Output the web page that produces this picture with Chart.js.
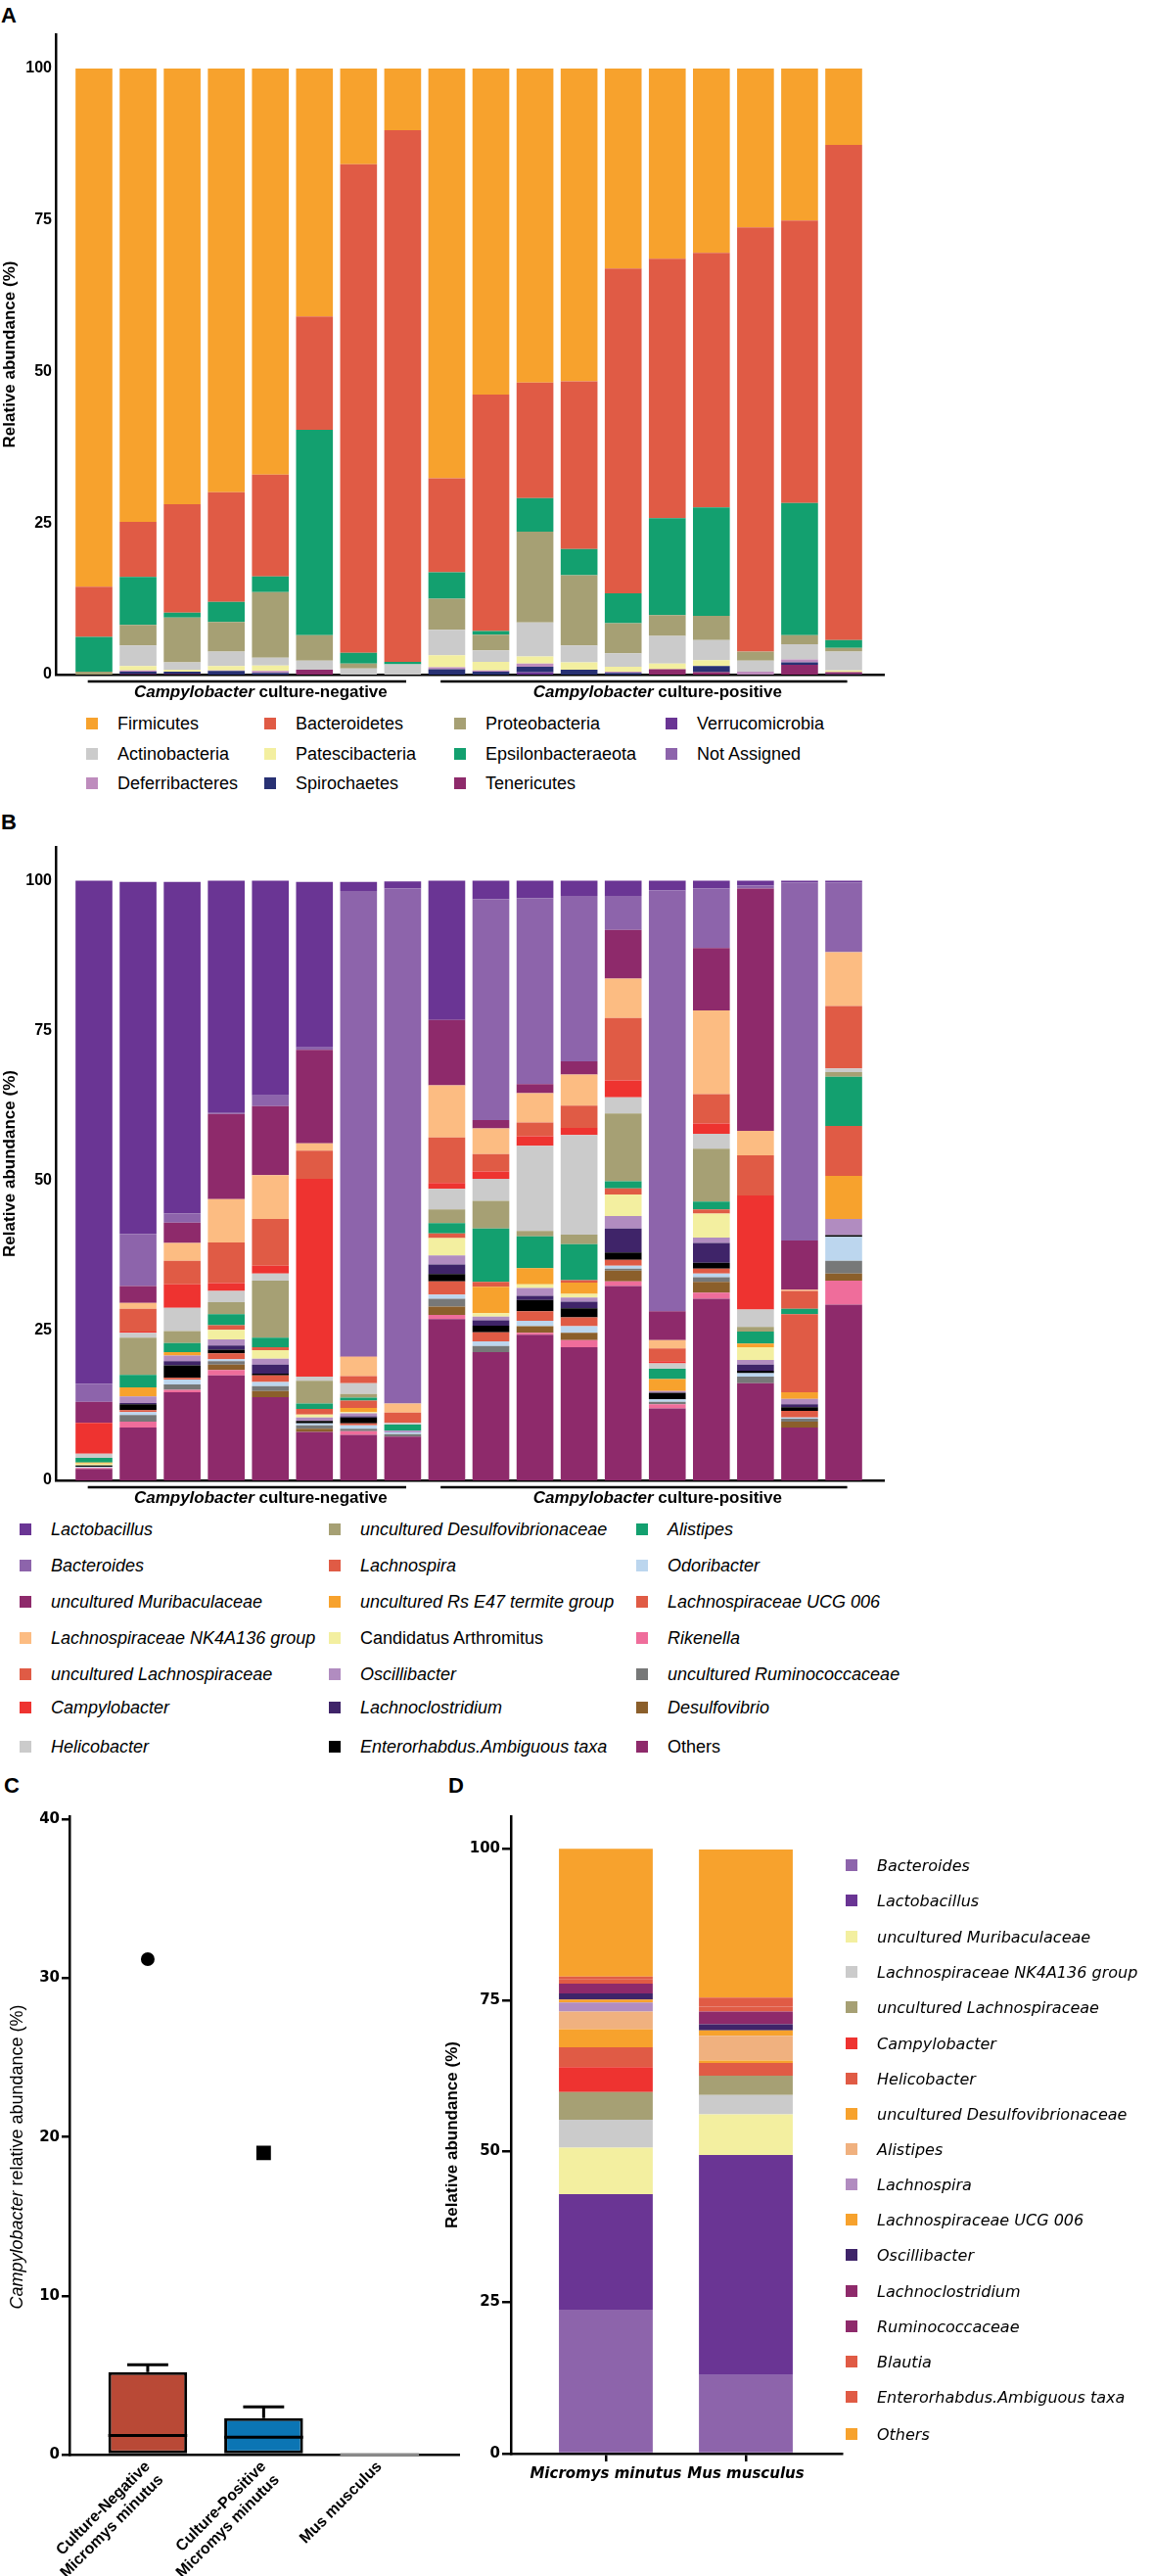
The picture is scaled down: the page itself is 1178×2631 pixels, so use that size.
<!DOCTYPE html>
<html>
<head>
<meta charset="utf-8">
<script src="https://cdn.jsdelivr.net/npm/chart.js@4.4.0/dist/chart.umd.min.js"></script>
<style>
body { margin:0; background:#fff; width:1178px; height:2631px; position:relative; overflow:hidden;
       font-family:"Liberation Sans", Arial, sans-serif; color:#000; }
canvas { position:absolute; }
.panel { position:absolute; font-weight:bold; font-size:22px; line-height:22px; }
.leg { position:absolute; display:flex; align-items:center; height:22px; white-space:nowrap; }
.sw { width:12px; height:12px; flex:none; }
</style>
</head>
<body>
<div class="panel" style="left:1px;top:5px">A</div>
<div class="panel" style="left:1px;top:829px">B</div>
<div class="panel" style="left:4px;top:1813px">C</div>
<div class="panel" style="left:458px;top:1813px">D</div>

<canvas id="chartA" width="920" height="720" style="left:0;top:0"></canvas>
<canvas id="chartB" width="920" height="720" style="left:0;top:830px"></canvas>
<canvas id="chartC" width="480" height="831" style="left:0;top:1800px"></canvas>
<canvas id="chartD" width="738" height="831" style="left:440px;top:1800px"></canvas>

<script>
Chart.defaults.font.family = '"Liberation Sans", Arial, sans-serif';
Chart.defaults.color = '#000';

// samples (8 culture-negative, 10 culture-positive)
var samples = ['N1', 'N2', 'N3', 'N4', 'N5', 'N6', 'N7', 'N8',
               'P1', 'P2', 'P3', 'P4', 'P5', 'P6', 'P7', 'P8', 'P9', 'P10'];
var sampleGroups = ['culture-negative', 'culture-positive'];
var groupFirst = [1, 9];
var groupLast = [8, 18];
var yTicks = [0, 25, 50, 75, 100];

// ---- panel A: phyla (%) ----
var notAssigned   = [0, 0, 0, 0, 0, 0, 0, 0, 0, 0, 0, 0, 0, 0, 0, 0, 0, 0.1];
var verrucomicrobia = [0, 0, 0, 0, 0, 0, 0, 0, 0, 0, 0.4, 0, 0, 0, 0, 0, 0, 0];
var tenericutes   = [0, 0.1, 0.1, 0, 0, 0.8, 0, 0, 0, 0, 0, 0, 0, 0.9, 0.4, 0, 1.6, 0.3];
var spirochaetes  = [0, 0.4, 0.4, 0.6, 0.3, 0, 0, 0, 0.9, 0.5, 0.9, 0.8, 0.3, 0, 1.0, 0, 0.4, 0];
var deferribacteres = [0, 0.2, 0, 0.1, 0.3, 0, 0, 0, 0.3, 0.2, 0.5, 0, 0.2, 0, 0, 0.5, 0.5, 0];
var patescibacteria = [0, 0.7, 0.3, 0.7, 0.9, 0, 0, 0, 2.0, 1.4, 1.2, 1.2, 0.8, 0.9, 1.0, 0, 0, 0.3];
var actinobacteria = [0, 3.4, 1.2, 2.4, 1.3, 1.5, 1.0, 1.7, 4.2, 1.9, 5.6, 2.8, 2.2, 4.6, 3.3, 1.8, 2.5, 3.1];
var proteobacteria = [0.5, 3.4, 7.4, 4.9, 10.8, 4.2, 0.8, 0, 5.1, 2.6, 15.0, 11.6, 5.0, 3.4, 4.0, 1.5, 1.5, 0.6];
var epsilonbacteraeota = [5.7, 7.9, 0.8, 3.3, 2.6, 33.9, 1.8, 0.4, 4.4, 0.6, 5.5, 4.3, 4.9, 16.0, 17.9, 0, 21.8, 1.3];
var bacteroidetes = [8.3, 9.1, 17.9, 18.1, 16.8, 18.7, 80.6, 87.7, 15.5, 39.0, 19.1, 27.7, 53.6, 42.8, 42.0, 70.0, 46.6, 81.7];
var firmicutes    = [85.5, 74.8, 71.9, 69.9, 67.0, 40.9, 15.8, 10.2, 67.6, 53.8, 51.8, 51.6, 33.0, 31.4, 30.4, 26.2, 25.1, 12.6];

// stack order, bottom to top
var phyla = ['Not Assigned', 'Verrucomicrobia', 'Tenericutes', 'Spirochaetes', 'Deferribacteres',
             'Patescibacteria', 'Actinobacteria', 'Proteobacteria', 'Epsilonbacteraeota',
             'Bacteroidetes', 'Firmicutes'];
var phylaValues = [notAssigned, verrucomicrobia, tenericutes, spirochaetes, deferribacteres,
                   patescibacteria, actinobacteria, proteobacteria, epsilonbacteraeota,
                   bacteroidetes, firmicutes];
var phylaColors = ['#8D64AB', '#6A3594', '#8E2A6B', '#283173', '#BE8CBD',
                   '#F3EFA0', '#CBCBCB', '#A6A074', '#13A06F', '#E05B45', '#F7A22D'];
var phylaLegend = ['Firmicutes', 'Bacteroidetes', 'Proteobacteria', 'Verrucomicrobia',
                   'Actinobacteria', 'Patescibacteria', 'Epsilonbacteraeota', 'Not Assigned',
                   'Deferribacteres', 'Spirochaetes', 'Tenericutes'];

// ---- panel B: genera (%) ----
var gOthers        = [1.9, 8.8, 14.7, 17.5, 13.9, 8.1, 7.6, 7.3, 26.9, 21.4, 24.3, 22.2, 32.4, 12.0, 30.3, 16.2, 8.8, 29.3];
var gRikenella     = [0.2, 1.0, 0.4, 0.9, 0, 0, 0.6, 0, 0.7, 0, 0.3, 1.2, 0.8, 0.7, 1.0, 0, 0, 4.0];
var gDesulfovibrio = [0, 0, 0, 0.9, 1.0, 0.5, 0, 0, 1.4, 0, 1.1, 1.2, 1.8, 0, 1.8, 0, 1.0, 1.2];
var gRuminococcaceae = [0, 1.1, 0.9, 0.6, 0.8, 0.6, 0.4, 0.4, 1.3, 1.0, 0, 0, 0.3, 0.4, 0.8, 1.1, 0.5, 2.1];
var gOdoribacter   = [0.2, 0.5, 0.8, 0.3, 0.7, 0.3, 0.6, 0.3, 0.7, 0.8, 0.9, 1.1, 0.5, 0.4, 0.6, 0.6, 0.2, 4.0];
var gUCG006        = [0, 0.3, 0.3, 1.0, 1.1, 0, 0.3, 0, 2.2, 1.5, 1.6, 1.5, 1.0, 0, 0.8, 0, 1.1, 0];
var gEnterorhabdus = [0.2, 1.0, 2.1, 0.6, 0.3, 0.4, 1.0, 0, 1.2, 1.1, 1.9, 1.5, 1.2, 1.1, 1.0, 0.4, 0.6, 0.3];
var gLachnoclostridium = [0, 0.2, 0.7, 0.7, 1.5, 0, 0.2, 0, 1.6, 0.9, 0.7, 1.1, 4.0, 0, 3.3, 1.0, 0.5, 0];
var gOscillibacter = [0, 1.1, 0.9, 1.0, 1.0, 0.6, 0.5, 0.3, 1.5, 0.6, 1.3, 0.7, 2.1, 0.3, 0.9, 0.8, 0.9, 2.7];
var gArthromitus   = [0.3, 0, 0, 1.6, 1.4, 0.5, 0.2, 0, 2.9, 0.6, 0.6, 0.6, 3.6, 0, 4.0, 2.1, 0, 0];
var gRsE47         = [0.2, 1.5, 0.6, 0, 0, 0, 0.7, 0, 0, 4.4, 2.7, 1.9, 0, 2.0, 0, 0.6, 1.1, 7.2];
var gLachnospira   = [0, 0, 0, 0.8, 0.5, 0.9, 1.2, 0, 0.8, 0.8, 0, 0.4, 1.0, 0, 0.7, 0, 13.0, 8.3];
var gAlistipes     = [0.75, 2.1, 1.5, 1.8, 1.6, 0.9, 0.5, 1.0, 1.7, 8.9, 5.3, 6.0, 1.2, 1.7, 1.3, 2.0, 0.9, 8.2];
var gDesulfovibrionaceae = [0, 6.2, 2.0, 2.0, 9.5, 3.8, 0.6, 0, 2.3, 4.6, 0.9, 1.6, 11.3, 0, 8.8, 0.8, 0, 0.8];
var gHelicobacter  = [0.7, 0.8, 3.9, 1.9, 1.2, 0.7, 1.8, 0.3, 3.4, 3.7, 14.2, 16.6, 2.7, 0.9, 2.5, 2.9, 0, 0.6];
var gCampylobacter = [5.15, 0.2, 3.9, 1.3, 1.3, 33.0, 0, 0, 1.0, 1.2, 1.6, 1.2, 2.8, 0.4, 1.7, 19.0, 0, 0];
var gUncLachno     = [0, 3.8, 3.9, 6.8, 7.8, 4.7, 1.2, 1.7, 7.6, 2.9, 2.3, 3.7, 10.4, 2.1, 4.9, 6.7, 3.0, 10.4];
var gNK4A136       = [0, 1.0, 3.0, 7.2, 7.3, 1.2, 3.2, 1.5, 8.7, 4.3, 4.9, 5.2, 6.6, 1.4, 14.0, 4.1, 0.2, 9.0];
var gMuribaculaceae = [3.5, 2.8, 3.4, 14.2, 11.5, 15.6, 0.1, 0, 10.9, 1.4, 1.5, 2.2, 8.1, 4.8, 10.4, 40.4, 8.2, 0];
var gBacteroides   = [3.0, 8.7, 1.5, 0.3, 1.8, 0.4, 77.6, 85.9, 0, 36.8, 31.0, 27.6, 5.7, 70.2, 9.9, 0.5, 59.7, 11.6];
var gLactobacillus = [83.9, 58.7, 55.3, 38.6, 35.8, 27.6, 1.5, 1.2, 23.2, 3.1, 2.9, 2.5, 2.5, 1.6, 1.3, 0.8, 0.3, 0.3];

var genera = ['Others', 'Rikenella', 'Desulfovibrio', 'uncultured Ruminococcaceae', 'Odoribacter',
              'Lachnospiraceae UCG 006', 'Enterorhabdus.Ambiguous taxa', 'Lachnoclostridium',
              'Oscillibacter', 'Candidatus Arthromitus', 'uncultured Rs E47 termite group',
              'Lachnospira', 'Alistipes', 'uncultured Desulfovibrionaceae', 'Helicobacter',
              'Campylobacter', 'uncultured Lachnospiraceae', 'Lachnospiraceae NK4A136 group',
              'uncultured Muribaculaceae', 'Bacteroides', 'Lactobacillus'];
var generaValues = [gOthers, gRikenella, gDesulfovibrio, gRuminococcaceae, gOdoribacter,
                    gUCG006, gEnterorhabdus, gLachnoclostridium, gOscillibacter, gArthromitus,
                    gRsE47, gLachnospira, gAlistipes, gDesulfovibrionaceae, gHelicobacter,
                    gCampylobacter, gUncLachno, gNK4A136, gMuribaculaceae, gBacteroides, gLactobacillus];
var generaColors = ['#8E2A6B', '#EF6D9B', '#8B5F2B', '#777878', '#BCD6EE',
                    '#E05B45', '#000000', '#3F2469', '#B18CC0', '#F3EFA0',
                    '#F7A22D', '#E05B45', '#13A06F', '#A6A074', '#CBCBCB',
                    '#EE3330', '#E05B45', '#FCBC82', '#8E2A6B', '#8D64AB', '#6A3594'];
// legend read down the columns
var generaLegend = ['Lactobacillus', 'Bacteroides', 'uncultured Muribaculaceae',
                    'Lachnospiraceae NK4A136 group', 'uncultured Lachnospiraceae', 'Campylobacter',
                    'Helicobacter', 'uncultured Desulfovibrionaceae', 'Lachnospira',
                    'uncultured Rs E47 termite group', 'Candidatus Arthromitus', 'Oscillibacter',
                    'Lachnoclostridium', 'Enterorhabdus.Ambiguous taxa', 'Alistipes', 'Odoribacter',
                    'Lachnospiraceae UCG 006', 'Rikenella', 'uncultured Ruminococcaceae',
                    'Desulfovibrio', 'Others'];
var notItalic = ['Candidatus Arthromitus', 'Others'];

// ---- panel C: Campylobacter relative abundance (%) ----
var hostGroups = [['Culture-Negative', 'Micromys minutus'], ['Culture-Positive', 'Micromys minutus'], ['Mus musculus']];
var boxTop = [5.2, 2.3, 0];
var boxMedian = [1.2, 1.1, 0];
var whiskerTop = [5.65, 3.0, 0];
var outliers = [31.2, 19.0];
var boxColors = ['#B94936', '#0B75B4', '#8A8A8A'];
var boxLines = ['#000000', '#000000', '#8A8A8A'];

// ---- panel D: mean genera per host (%) ----
var hosts = ['Micromys minutus', 'Mus musculus'];
var hostGenera = ['Bacteroides', 'Lactobacillus', 'uncultured Muribaculaceae', 'Lachnospiraceae NK4A136 group',
                  'uncultured Lachnospiraceae', 'Campylobacter', 'Helicobacter', 'uncultured Desulfovibrionaceae',
                  'Alistipes', 'Lachnospira', 'Lachnospiraceae UCG 006', 'Oscillibacter', 'Lachnoclostridium',
                  'Ruminococcaceae', 'Blautia', 'Enterorhabdus.Ambiguous taxa', 'Others'];
var hostValues = [[23.8, 13.0], [19.1, 36.4], [7.7, 6.7], [4.6, 3.2], [4.6, 3.2], [4.1, 0],
                  [3.3, 2.1], [3.0, 0.4], [2.9, 4.1], [1.5, 0], [0.5, 0.9], [1.0, 1.0], [0.8, 1.2],
                  [0.8, 0.9], [0.8, 0.8], [0.4, 1.5], [21.1, 24.5]];
var hostColors = ['#8D64AB', '#6A3594', '#F3EFA0', '#CBCBCB', '#A6A074', '#EE3330', '#E05B45',
                  '#F7A22D', '#F0B17F', '#B18CC0', '#F7A22D', '#3F2469', '#8E2A6B', '#8E2A6B',
                  '#E05B45', '#E05B45', '#F7A22D'];

// keep the x scale from padding itself for its labels
function noPad(s) { s.paddingLeft = 0; s.paddingRight = 0; }

// group bars + labels under panels A and B
var groupPlugin = {
    id: 'groupBars',
    afterDraw: function(chart) {
        var ctx = chart.ctx, x = chart.scales.x, area = chart.chartArea;
        ctx.save();
        sampleGroups.forEach(function(g, k) {
            var x0 = x.getPixelForValue(groupFirst[k] - 0.14);
            var x1 = x.getPixelForValue(groupLast[k] + 0.08);
            var ly = area.bottom + 7;
            ctx.strokeStyle = '#000';
            ctx.lineWidth = 2.5;
            ctx.beginPath(); ctx.moveTo(x0, ly); ctx.lineTo(x1, ly); ctx.stroke();
            var f1 = 'italic bold 17px "Liberation Sans"', f2 = 'bold 17px "Liberation Sans"';
            ctx.font = f1; var w1 = ctx.measureText('Campylobacter').width;
            ctx.font = f2; var w2 = ctx.measureText(' ' + g).width;
            var tx = (x0 + x1) / 2 + 14 - (w1 + w2) / 2, ty = area.bottom + 18;
            ctx.fillStyle = '#000'; ctx.textBaseline = 'middle'; ctx.textAlign = 'left';
            ctx.font = f1; ctx.fillText('Campylobacter', tx, ty);
            ctx.font = f2; ctx.fillText(' ' + g, tx + w1, ty);
        });
        ctx.restore();
    }
};

function drawSampleChart(id, names, values, colors, xHeight) {
    new Chart(document.getElementById(id), {
        type: 'bar',
        data: {
            datasets: names.map(function(n, k) {
                return {
                    label: n,
                    data: values[k].map(function(v, i) { return {x: i + 1, y: v}; })
                                   .filter(function(d) { return d.y > 0; }),
                    backgroundColor: colors[k],
                    borderWidth: 0,
                    barPercentage: 0.835,
                    categoryPercentage: 1
                };
            })
        },
        options: {
            responsive: false,
            animation: false,
            layout: { padding: { top: 35, right: 17, left: 0, bottom: 0 } },
            plugins: { legend: { display: false }, tooltip: { enabled: false } },
            scales: {
                x: {
                    type: 'linear', offset: false, stacked: true, min: 0.1345, max: 18.91,
                    afterBuildTicks: function(s) { s.ticks = samples.map(function(_, i) { return {value: i + 1}; }); },
                    afterFit: function(s) { s.height = xHeight; noPad(s); },
                    ticks: { display: false },
                    grid: { display: false, drawTicks: false, offset: false },
                    border: { display: true, color: '#000', width: 2.5 }
                },
                y: {
                    stacked: true, min: 0, max: 105.65,
                    afterBuildTicks: function(s) { s.ticks = yTicks.map(function(v) { return {value: v}; }); },
                    afterFit: function(s) { s.width = 57; },
                    ticks: { padding: 4, font: { size: 16, weight: 'bold' }, color: '#000' },
                    grid: { display: false, drawTicks: false },
                    border: { display: true, color: '#000', width: 2.5 },
                    title: { display: true, text: 'Relative abundance (%)', color: '#000',
                             font: { size: 17, weight: 'bold' }, padding: { top: 0, bottom: 0 } }
                }
            }
        },
        plugins: [groupPlugin]
    });
}

drawSampleChart('chartA', phyla, phylaValues, phylaColors, 31);
drawSampleChart('chartB', genera, generaValues, generaColors, 38);

// ---- panel C ----
var boxPlugin = {
    id: 'boxParts',
    afterDatasetsDraw: function(chart) {
        var ctx = chart.ctx, y = chart.scales.y, meta = chart.getDatasetMeta(0);
        ctx.save();
        ctx.lineWidth = 3;
        meta.data.forEach(function(bar, i) {
            var hw = bar.width / 2;
            ctx.strokeStyle = boxLines[i];
            ctx.beginPath();
            ctx.moveTo(bar.x - hw, y.getPixelForValue(boxMedian[i]));
            ctx.lineTo(bar.x + hw, y.getPixelForValue(boxMedian[i]));
            if (whiskerTop[i] > boxTop[i]) {
                var yt = y.getPixelForValue(whiskerTop[i]);
                ctx.moveTo(bar.x, y.getPixelForValue(boxTop[i]));
                ctx.lineTo(bar.x, yt);
                ctx.moveTo(bar.x - hw * 0.52, yt);
                ctx.lineTo(bar.x + hw * 0.52, yt);
            }
            ctx.stroke();
        });
        // y title with italic genus name
        var area = chart.chartArea, f1 = 'italic 18px "Liberation Sans"', f2 = '18px "Liberation Sans"';
        ctx.font = f1; var w1 = ctx.measureText('Campylobacter').width;
        ctx.font = f2; var w2 = ctx.measureText(' relative abundance (%)').width;
        ctx.translate(18, (area.top + area.bottom) / 2 + 22);
        ctx.rotate(-Math.PI / 2);
        ctx.fillStyle = '#000'; ctx.textBaseline = 'middle'; ctx.textAlign = 'left';
        ctx.font = f1; ctx.fillText('Campylobacter', -(w1 + w2) / 2, 0);
        ctx.font = f2; ctx.fillText(' relative abundance (%)', -(w1 + w2) / 2 + w1, 0);
        ctx.restore();
    }
};

new Chart(document.getElementById('chartC'), {
    type: 'bar',
    data: {
        datasets: [{
            label: 'box',
            data: boxTop.map(function(v, i) { return {x: i + 1, y: v}; }),
            backgroundColor: boxColors,
            borderColor: boxLines,
            borderWidth: 3,
            borderSkipped: false,
            barPercentage: 0.68,
            categoryPercentage: 1
        }, {
            type: 'scatter',
            label: 'outliers',
            data: outliers.map(function(v, i) { return {x: i + 1, y: v}; }),
            pointStyle: ['circle', 'rect'],
            pointRadius: [7, 10.5],
            backgroundColor: '#000',
            borderWidth: 0
        }]
    },
    options: {
        responsive: false,
        animation: false,
        layout: { padding: { top: 55, right: 5, left: 0, bottom: 0 } },
        plugins: { legend: { display: false }, tooltip: { enabled: false } },
        scales: {
            x: {
                type: 'linear', offset: false, min: 0.325, max: 3.69,
                afterBuildTicks: function(s) { s.ticks = hostGroups.map(function(_, i) { return {value: i + 1}; }); },
                afterFit: function(s) { s.height = 124; noPad(s); },
                ticks: {
                    minRotation: 45, maxRotation: 45, padding: 3, color: '#000', autoSkip: false,
                    font: { size: 16, weight: 'bold' },
                    callback: function(v) { return hostGroups[v - 1]; }
                },
                grid: { display: false, drawTicks: false, offset: false },
                border: { display: true, color: '#000', width: 2.5 }
            },
            y: {
                min: 0, max: 40.2,
                afterBuildTicks: function(s) { s.ticks = [0, 10, 20, 30, 40].map(function(v) { return {value: v}; }); },
                afterFit: function(s) { s.width = 71; },
                ticks: { padding: 2, color: '#000', font: { family: '"DejaVu Sans"', size: 15, weight: 'bold' } },
                grid: { display: true, drawOnChartArea: false, drawTicks: true, tickLength: 8, color: '#000', lineWidth: 2.5 },
                border: { display: true, color: '#000', width: 2.5 }
            }
        }
    },
    plugins: [boxPlugin]
});

// ---- panel D ----
new Chart(document.getElementById('chartD'), {
    type: 'bar',
    data: {
        datasets: hostGenera.map(function(n, k) {
            return {
                label: n,
                data: hostValues[k].map(function(v, i) { return {x: i + 1, y: v}; })
                                   .filter(function(d) { return d.y > 0; }),
                backgroundColor: hostColors[k],
                borderWidth: 0,
                barPercentage: 0.67,
                categoryPercentage: 1
            };
        })
    },
    options: {
        responsive: false,
        animation: false,
        layout: { padding: { top: 55, right: 318, left: 0, bottom: 0 } },
        plugins: { legend: { display: false }, tooltip: { enabled: false } },
        scales: {
            x: {
                type: 'linear', offset: false, stacked: true, min: 0.322, max: 2.685,
                afterBuildTicks: function(s) { s.ticks = hosts.map(function(_, i) { return {value: i + 1}; }); },
                afterFit: function(s) { s.height = 125; noPad(s); },
                ticks: {
                    maxRotation: 0, padding: 4, color: '#000', autoSkip: false,
                    font: { family: '"DejaVu Sans"', size: 15, weight: 'bold', style: 'italic' },
                    callback: function(v) { return hosts[v - 1]; }
                },
                grid: { display: true, drawOnChartArea: false, drawTicks: true, tickLength: 8,
                        color: '#000', lineWidth: 2.5, offset: false },
                border: { display: true, color: '#000', width: 2.5 }
            },
            y: {
                stacked: true, min: 0, max: 105.4,
                afterBuildTicks: function(s) { s.ticks = yTicks.map(function(v) { return {value: v}; }); },
                afterFit: function(s) { s.width = 82; },
                ticks: { padding: 2, color: '#000', font: { family: '"DejaVu Sans"', size: 15, weight: 'bold' } },
                grid: { display: true, drawOnChartArea: false, drawTicks: true, tickLength: 9, color: '#000', lineWidth: 2.5 },
                border: { display: true, color: '#000', width: 2.5 },
                title: { display: true, text: 'Relative abundance (%)', color: '#000',
                         font: { size: 17, weight: 'bold' }, padding: { top: 12, bottom: 0 } }
            }
        }
    }
});

// ---- HTML legends ----
function addLegend(items, colorOf, xs, ys, byColumn, styleOf) {
    items.forEach(function(name, i) {
        var c = byColumn ? Math.floor(i / ys.length) : i % xs.length;
        var r = byColumn ? i % ys.length : Math.floor(i / xs.length);
        var el = document.createElement('div');
        el.className = 'leg';
        el.style.left = xs[c] + 'px';
        el.style.top = (ys[r] - 11) + 'px';
        var sw = document.createElement('span');
        sw.className = 'sw';
        sw.style.background = colorOf(name);
        var tx = document.createElement('span');
        tx.textContent = name;
        tx.style.cssText = 'margin-left:20px;' + styleOf(name);
        el.appendChild(sw);
        el.appendChild(tx);
        document.body.appendChild(el);
    });
}

addLegend(phylaLegend, function(n) { return phylaColors[phyla.indexOf(n)]; },
          [88, 270, 464, 680], [739, 770, 800], false,
          function() { return 'font-size:18px;'; });

addLegend(generaLegend, function(n) { return generaColors[genera.indexOf(n)]; },
          [20, 336, 650], [1562, 1599, 1636, 1673, 1710, 1744, 1784], true,
          function(n) { return 'font-size:18px;' + (notItalic.indexOf(n) < 0 ? 'font-style:italic;' : ''); });

addLegend(hostGenera, function(n) { return hostColors[hostGenera.indexOf(n)]; },
          [864], [1905, 1941, 1978, 2014, 2050, 2087, 2123, 2159, 2195, 2231, 2267, 2303, 2340, 2376, 2412, 2448, 2486], true,
          function() { return 'font-size:16px;font-style:italic;font-family:"DejaVu Sans";'; });
</script>
</body>
</html>
